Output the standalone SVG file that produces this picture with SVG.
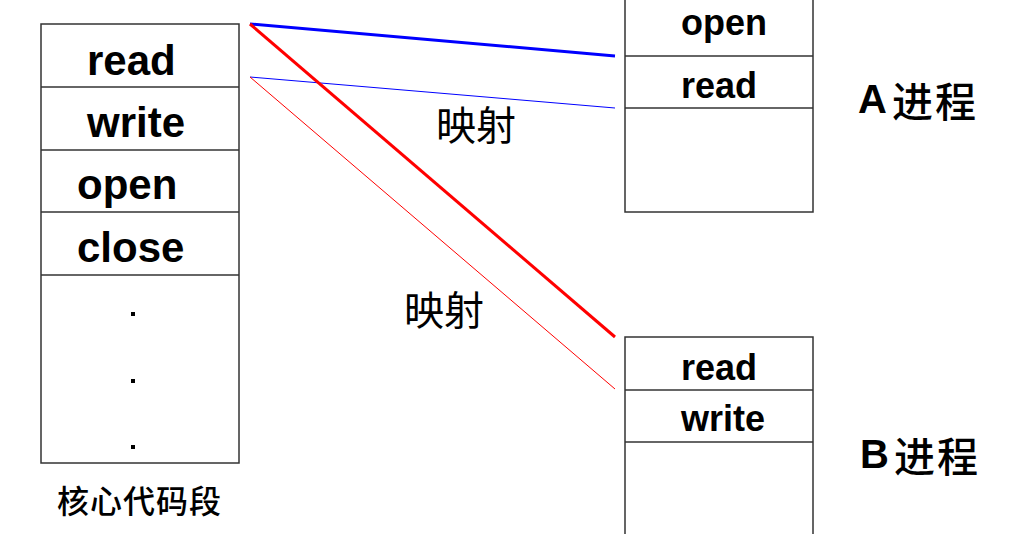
<svg xmlns="http://www.w3.org/2000/svg" width="1020" height="534" viewBox="0 0 1020 534">
<style>
.box{fill:#fff;stroke:#333;stroke-width:1.5}
.sep{stroke:#333;stroke-width:1.5}
.en{font-family:"Liberation Sans",Arial,sans-serif;font-weight:bold;fill:#000}
.cjk{font-family:"Noto Sans CJK SC",sans-serif;fill:#000}
.dot{fill:#000}
</style>
<rect width="1020" height="534" fill="#fff"/>
<g id="kernel">
<rect class="box" x="41" y="24" width="198" height="439"/>
<line class="sep" x1="41" y1="87" x2="239" y2="87"/>
<line class="sep" x1="41" y1="150" x2="239" y2="150"/>
<line class="sep" x1="41" y1="212" x2="239" y2="212"/>
<line class="sep" x1="41" y1="275" x2="239" y2="275"/>
<text class="en" x="87" y="75" font-size="42">read</text>
<text class="en" x="87" y="137" font-size="42">write</text>
<text class="en" x="77" y="199" font-size="42">open</text>
<text class="en" x="77" y="262" font-size="42">close</text>
<rect class="dot" x="131" y="312" width="4" height="4"/>
<rect class="dot" x="131" y="379" width="4" height="4"/>
<rect class="dot" x="131" y="445" width="4" height="4"/>
<text class="cjk" x="57" y="513" font-size="32" letter-spacing="1" font-weight="500">核心代码段</text>
</g>
<g id="procA">
<rect class="box" x="625" y="-10" width="188" height="222"/>
<line class="sep" x1="625" y1="56" x2="813" y2="56"/>
<line class="sep" x1="625" y1="108" x2="813" y2="108"/>
<text class="en" x="681" y="35" font-size="36">open</text>
<text class="en" x="681" y="98" font-size="36">read</text>
<text x="858" y="113"><tspan class="en" font-size="40">A</tspan><tspan class="cjk" font-size="41" dx="5" y="117" letter-spacing="2" font-weight="500">进程</tspan></text>
</g>
<g id="procB">
<rect class="box" x="625" y="337" width="188" height="210"/>
<line class="sep" x1="625" y1="390" x2="813" y2="390"/>
<line class="sep" x1="625" y1="442" x2="813" y2="442"/>
<text class="en" x="681" y="380" font-size="36">read</text>
<text class="en" x="681" y="431" font-size="36">write</text>
<text x="860" y="468"><tspan class="en" font-size="40">B</tspan><tspan class="cjk" font-size="41" dx="5" y="472" letter-spacing="2" font-weight="500">进程</tspan></text>
</g>
<g id="connectors">
<line x1="250" y1="24" x2="615" y2="56" stroke="#0000ff" stroke-width="3"/>
<line x1="250" y1="77" x2="615" y2="108" stroke="#0000ff" stroke-width="1"/>
<line x1="250" y1="24" x2="615" y2="337" stroke="#ff0000" stroke-width="3"/>
<line x1="250" y1="77" x2="615" y2="389" stroke="#ff0000" stroke-width="1"/>
</g>
<g id="labels">
<text class="cjk" x="436" y="140" font-size="40">映射</text>
<text class="cjk" x="404" y="325" font-size="40">映射</text>
</g>
</svg>
